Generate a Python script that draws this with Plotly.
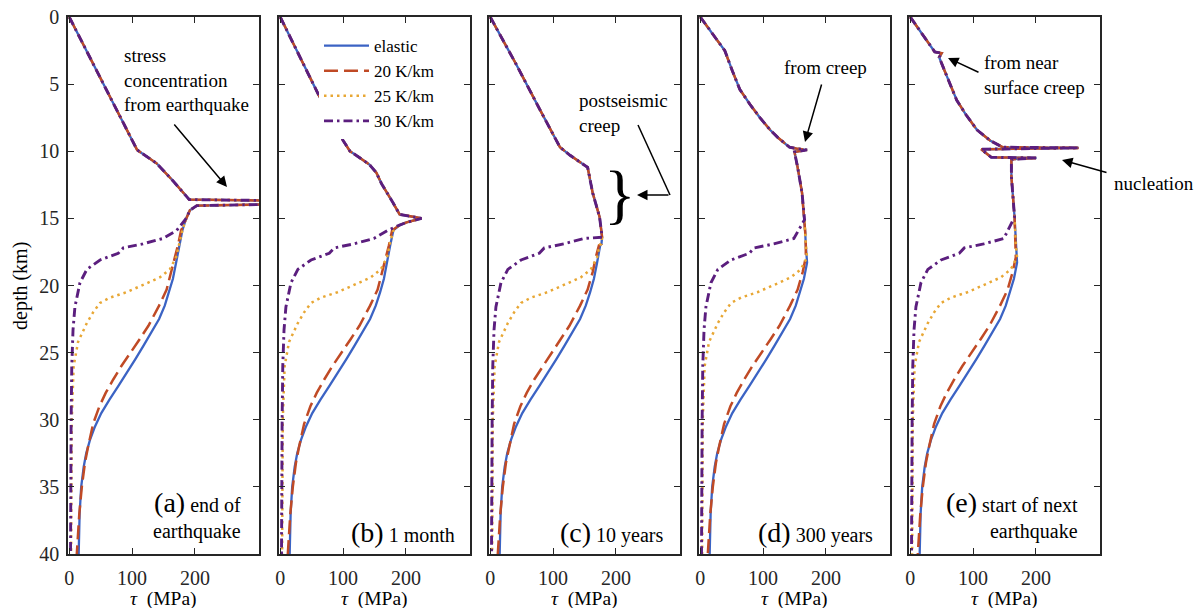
import plotly.graph_objects as go

W, H = 1202, 608
ML, MR, MT, MB = 68, 102, 17, 54
PW = W - ML - MR
PH = H - MT - MB

# ---------------- data ----------------
series_names = ["elastic", "20 K/km", "25 K/km", "30 K/km"]
colors = ["#3B63C4", "#C04A25", "#E8A735", "#5B1E7E"]

# shared (all-series) upper profile per panel: depth (km), tau (MPa)
upper_a_depth = [0, 3.0, 6.7, 9.9, 10.9, 12.2, 13.6, 13.68, 13.95, 14.05, 14.4, 15.0]
upper_a_tau = [0, 33, 74, 108, 139, 165, 191, 330, 330, 203, 192, 186]

upper_b_depth = [0, 5.8, 9.2, 10.0, 10.5, 11.0, 11.6, 12.4, 13.8, 14.7, 15.0, 15.3, 15.5]
upper_b_tau = [0, 61, 100, 111, 127, 142, 153, 161, 179, 190, 225, 201, 190]

upper_c_depth = [0, 3.5, 6.9, 9.7, 10.3, 10.9, 11.2, 13.1, 14.9, 16.0, 16.4, 16.9]
upper_c_tau = [0, 41, 79, 111, 127, 147, 155, 163, 174, 177, 178, 177]

upper_d_depth = [0, 2.5, 4.0, 5.4, 6.5, 7.5, 8.4, 9.0, 9.5, 9.7, 9.8, 9.9, 10.05, 11.2, 13.1, 15.1, 16.0, 17.0]
upper_d_tau = [0, 39, 51, 63, 79, 95, 111, 124, 137, 142, 153, 170, 150, 155, 162, 166, 167, 168]

upper_e_depth = [0, 2.6, 2.7, 3.0, 4.5, 6.2, 7.3, 8.4, 9.2, 9.5, 9.7, 9.75, 9.85, 10.45, 10.5, 10.6, 11.9, 14.9, 16.0, 17.0]
upper_e_tau = [0, 39, 50, 46, 59, 74, 89, 106, 127, 139, 147, 268, 113, 129, 201, 161, 161, 166, 167, 168]

split_main = [15.0, 15.5, 16.9, 17.0, 17.0]
split_purple = [15.0, 15.5, 16.4, 15.9, 15.9]

# deeper parts where the thermal models diverge
elastic_depth = [15.9, 17.0, 18.3, 19.5, 20.5, 21.5, 22.5, 23.5, 24.5, 25.5, 26.5, 27.5, 28.5, 29.5, 30.5, 31.5, 32.5, 33.5, 35.0, 37.0, 40.0]
elastic_tau = [180, 175, 170, 165, 159, 152, 143, 131, 118, 105, 92, 78, 64, 51, 41, 33, 27, 23, 19, 16.5, 15]

k20_depth = [15.9, 17.0, 17.9, 19.0, 20.3, 21.5, 23.0, 24.0, 25.0, 26.0, 27.0, 28.0, 29.0, 30.3, 32.0, 33.2, 35.0, 37.0, 40.0]
k20_tau = [178, 173, 168, 163, 155, 143, 126, 112, 97, 83, 70, 58, 48, 38, 30, 25, 20, 16, 12]

k25_depth = [15.9, 17.0, 17.9, 18.8, 19.4, 19.8, 20.5, 20.9, 21.3, 22.0, 22.8, 24.2, 26.0, 30.0, 40.0]
k25_tau = [180, 174, 170, 160, 144, 125, 91, 65, 49, 38, 28, 14, 7, 4, 3]

k30_depth = [15.9, 16.5, 16.9, 17.2, 17.6, 18.1, 18.8, 19.8, 21.6, 23.3, 26.0, 30.0, 40.0]
k30_tau = [171, 149, 117, 86, 78, 49, 28, 17, 9, 6, 4, 3, 2]

x_ticks = [0, 100, 200]
y_ticks = [0, 5, 10, 15, 20, 25, 30, 35, 40]

# ---------------- figure ----------------
uppers = [(upper_a_depth, upper_a_tau), (upper_b_depth, upper_b_tau), (upper_c_depth, upper_c_tau),
          (upper_d_depth, upper_d_tau), (upper_e_depth, upper_e_tau)]
lowers = [(elastic_depth, elastic_tau), (k20_depth, k20_tau), (k25_depth, k25_tau), (k30_depth, k30_tau)]
dashes = ["solid", "14px,6px", "2.5px,4px", "9px,4px,2.5px,4px"]
widths = [2.3, 2.5, 2.5, 2.9]

panel_left = [68, 279, 489, 699, 909]
panel_w = 191

SERIF = "Liberation Serif, Times New Roman, DejaVu Serif, serif"

fig = go.Figure()
for p in range(5):
    ud, ut = uppers[p]
    for s in range(4):
        split = split_purple[p] if s == 3 else split_main[p]
        ld, lt = lowers[s]
        d = [v for v in ud if v <= split] + [v for v in ld if v > split]
        t = [ut[i] for i, v in enumerate(ud) if v <= split] + [lt[i] for i, v in enumerate(ld) if v > split]
        suffix = "" if p == 0 else str(p + 1)
        fig.add_trace(go.Scatter(
            x=t, y=d, mode="lines", name=series_names[s],
            line=dict(color=colors[s], width=widths[s], dash=dashes[s]),
            xaxis="x" + suffix, yaxis="y" + suffix,
            showlegend=(p == 0), hoverinfo="skip"))

tickfont = dict(family=SERIF, size=20, color="#262626")
for p in range(5):
    suffix = "" if p == 0 else str(p + 1)
    x0 = max(0.0, (panel_left[p] - ML) / PW)
    x1 = min(1.0, (panel_left[p] + panel_w - ML) / PW)
    fig.layout["xaxis" + suffix] = dict(
        domain=[x0, x1], range=[-2, 302], tickvals=x_ticks, ticks="inside", ticklen=6,
        mirror="ticks", showline=True, linecolor="#262626", linewidth=1.5, tickcolor="#262626",
        showgrid=False, zeroline=False, tickfont=tickfont, anchor="y" + suffix,
        ticklabelstandoff=5, fixedrange=True)
    fig.layout["yaxis" + suffix] = dict(
        domain=[0, 1], range=[40, 0], tickvals=y_ticks, ticks="inside", ticklen=6,
        mirror="ticks", showline=True, linecolor="#262626", linewidth=1.5, tickcolor="#262626",
        showgrid=False, zeroline=False, tickfont=tickfont, anchor="x" + suffix,
        showticklabels=(p == 0), ticklabelstandoff=3, fixedrange=True)


def px_x(px):
    return (px - ML) / PW


def px_y(py):
    return (H - MB - py) / PH


anns = []
txt = dict(family=SERIF, size=19, color="black")


def text(s, x, y, xanchor="left", yanchor="middle", align="left", font=None, angle=0):
    anns.append(dict(text=s, x=px_x(x), y=px_y(y), xref="paper", yref="paper", showarrow=False,
                     xanchor=xanchor, yanchor=yanchor, align=align, font=font or txt, textangle=angle))


def arrow(hx, hy, tx, ty, head=2):
    anns.append(dict(text="", x=px_x(hx), y=px_y(hy), xref="paper", yref="paper", showarrow=True,
                     ax=tx - hx, ay=ty - hy, axref="pixel", ayref="pixel", arrowhead=head,
                     arrowsize=1.4, arrowwidth=1.5, arrowcolor="black"))


text("stress<br>concentration<br>from earthquake", 122, 80)
arrow(227, 187, 173, 123)
text("postseismic<br>creep", 577, 113)
text("}", 620, 193, xanchor="center", font=dict(family=SERIF, size=66, color="black"))
arrow(637, 195, 670, 195)
text("from creep", 825, 67, xanchor="center")
arrow(805, 142, 822, 83)
text("from near<br>surface creep", 982, 75)
arrow(948, 58, 980, 73)
text("nucleation", 1112, 183)
arrow(1062, 160, 1108, 173)

big = "<span style='font-size:28px'>(%s)</span>"
lab = dict(family=SERIF, size=20, color="black")
text(big % "a" + " end of<br>earthquake", 243, 515, xanchor="right", align="right", font=lab)
text(big % "b" + " 1 month", 457, 532, xanchor="right", align="right", font=lab)
text(big % "c" + " 10 years", 665, 532, xanchor="right", align="right", font=lab)
text(big % "d" + " 300 years", 875, 532, xanchor="right", align="right", font=lab)
text(big % "e" + " start of next<br>earthquake", 1080, 515, xanchor="right", align="right", font=lab)

for p in range(5):
    text("<i>τ</i>&nbsp;&nbsp;(MPa)", panel_left[p] + panel_w / 2, 599, xanchor="center",
         font=dict(family=SERIF, size=19.5, color="black"))
text("depth (km)", 20, 286, xanchor="center", angle=-90, font=lab)

fig.update_layout(
    width=W, height=H, margin=dict(l=ML, r=MR, t=MT, b=MB, autoexpand=False),
    paper_bgcolor="white", plot_bgcolor="white",
    annotations=anns,
    shapes=[dict(type="line", xref="paper", yref="paper", x0=px_x(638), y0=px_y(125),
                 x1=px_x(670), y1=px_y(195), line=dict(color="black", width=1.5))],
    legend=dict(x=px_x(319), y=px_y(28), xanchor="left", yanchor="top", bgcolor="white",
                borderwidth=0, font=dict(family=SERIF, size=17, color="black"),
                itemwidth=45, tracegroupgap=0),
    showlegend=True,
)

fig.write_html("out.html")
